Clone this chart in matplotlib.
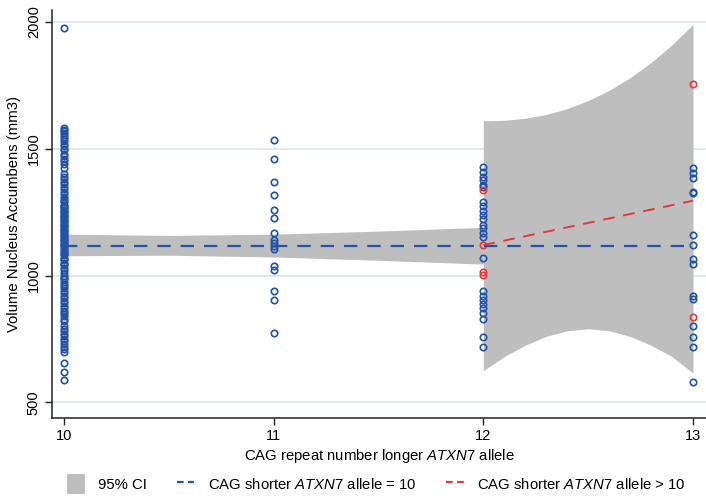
import matplotlib.pyplot as plt
from matplotlib.patches import Patch
from matplotlib.lines import Line2D

plt.rcParams['font.family'] = ['Liberation Sans', 'DejaVu Sans']
plt.rcParams['mathtext.fontset'] = 'custom'
plt.rcParams['mathtext.rm'] = 'Liberation Sans'
plt.rcParams['mathtext.it'] = 'Liberation Sans:italic'

BLUE = '#2153a8'
RED = '#e8383d'
GREY = '#bebebe'

# volumes (mm3) by longer-allele repeat, shorter allele = 10
vol_10 = [1975, 1580, 1575, 1570, 1562, 1555, 1548, 1540, 1530, 1520, 1510, 1500,
          1495, 1480, 1470, 1460, 1450, 1440, 1425, 1400, 1390, 1380, 1370, 1360,
          1350, 1340, 1330, 1320, 1310, 1300, 1295, 1290, 1280, 1275, 1270, 1265,
          1260, 1255, 1250, 1245, 1240, 1235, 1230, 1225, 1220, 1215, 1210, 1205,
          1200, 1195, 1190, 1185, 1180, 1175, 1170, 1165, 1160, 1155, 1150, 1145,
          1140, 1135, 1130, 1125, 1120, 1115, 1110, 1100, 1095, 1090, 1085, 1080,
          1070, 1065, 1060, 1050, 1045, 1040, 1030, 1020, 1010, 1000, 990, 985,
          975, 965, 960, 950, 940, 930, 920, 910, 900, 890, 880, 870, 860, 855,
          850, 840, 830, 820, 800, 790, 780, 770, 760, 750, 740, 730, 720, 710,
          700, 655, 620, 588]
vol_11 = [1535, 1460, 1369, 1318, 1259, 1227, 1168, 1140, 1129, 1117, 1105,
          1038, 1022, 939, 904, 774]
vol_12 = [1429, 1410, 1388, 1377, 1357, 1350, 1291, 1274, 1256, 1239, 1222, 1200,
          1187, 1167, 1151, 1071, 937, 920, 904, 887, 871, 851, 828, 757, 720]
vol_13 = [1422, 1403, 1385, 1330, 1325, 1160, 1122, 1065, 1045, 918, 908,
          800, 757, 720, 580]

# shorter allele > 10
red_x = [12, 12, 12, 12, 13, 13]
red_vol = [1338, 1120, 1015, 1002, 1757, 838]

# fitted lines
fit_eq_x = [10, 13]
fit_eq_y = [1117, 1117]
fit_gt_x = [12, 13]
fit_gt_y = [1120, 1295]

# 95% CI bands
ci_eq_x = [10, 10.5, 11, 11.5, 12]
ci_eq_lo = [1078, 1080, 1073, 1060, 1045]
ci_eq_hi = [1163, 1158, 1163, 1175, 1190]
ci_gt_x = [12, 12.1, 12.2, 12.3, 12.4, 12.5, 12.6, 12.7, 12.8, 12.9, 13]
ci_gt_lo = [625, 680, 725, 760, 782, 790, 782, 760, 725, 680, 615]
ci_gt_hi = [1610, 1612, 1620, 1635, 1658, 1690, 1730, 1780, 1840, 1910, 1990]

fig = plt.figure(figsize=(7.06, 4.98), dpi=100)
ax = fig.add_axes([0.0737, 0.1606, 0.9263, 0.8193])

ax.fill_between(ci_eq_x, ci_eq_lo, ci_eq_hi, color=GREY, lw=0, zorder=1)
ax.fill_between(ci_gt_x, ci_gt_lo, ci_gt_hi, color=GREY, lw=0, zorder=1)

blue_x = [10] * len(vol_10) + [11] * len(vol_11) + [12] * len(vol_12) + [13] * len(vol_13)
blue_vol = vol_10 + vol_11 + vol_12 + vol_13
ax.plot(blue_x, blue_vol, 'o', mfc='none', mec=BLUE, ms=4.6, mew=1.2, zorder=3)
ax.plot(red_x, red_vol, 'o', mfc='none', mec=RED, ms=4.6, mew=1.2, zorder=3)

ax.plot(fit_eq_x, fit_eq_y, color=BLUE, lw=1.6, dashes=(6, 4.5), zorder=4)
ax.plot(fit_gt_x, fit_gt_y, color=RED, lw=1.4, dashes=(6, 4.5), zorder=4)

ax.set_xlim(9.943, 13.062)
ax.set_ylim(438, 2047)
ax.set_xticks([10, 11, 12, 13])
ax.set_yticks([500, 1000, 1500, 2000])
ax.set_yticklabels(['500', '1000', '1500', '2000'], rotation=90, va='center')
ax.tick_params(labelsize=10.5, length=5, width=1, color='#222222', pad=3)
ax.grid(axis='y', color='#d6e9e9', lw=1.2, zorder=0)
ax.set_axisbelow(True)
for s in ['top', 'right']:
    ax.spines[s].set_visible(False)
for s in ['left', 'bottom']:
    ax.spines[s].set_color('#222222')
    ax.spines[s].set_linewidth(1.1)

ax.set_xlabel(r'CAG repeat number longer $\it{ATXN7}$ allele', fontsize=10.7, labelpad=3)
ax.set_ylabel('Volume Nucleus Accumbens (mm3)', fontsize=10.7, labelpad=4)

handles = [Patch(facecolor=GREY, edgecolor='none'),
           Line2D([], [], color=BLUE, lw=1.6, dashes=(3, 2)),
           Line2D([], [], color=RED, lw=1.6, dashes=(3, 2))]
labels = ['95% CI',
          r'CAG shorter $\it{ATXN7}$ allele = 10',
          r'CAG shorter $\it{ATXN7}$ allele > 10']
fig.legend(handles, labels, loc='lower center', bbox_to_anchor=(0.533, -0.018),
           ncol=3, frameon=False, fontsize=10.7, handlelength=1.2, handleheight=1.6,
           columnspacing=2.0, handletextpad=0.9)

fig.savefig('out.png', dpi=100)
